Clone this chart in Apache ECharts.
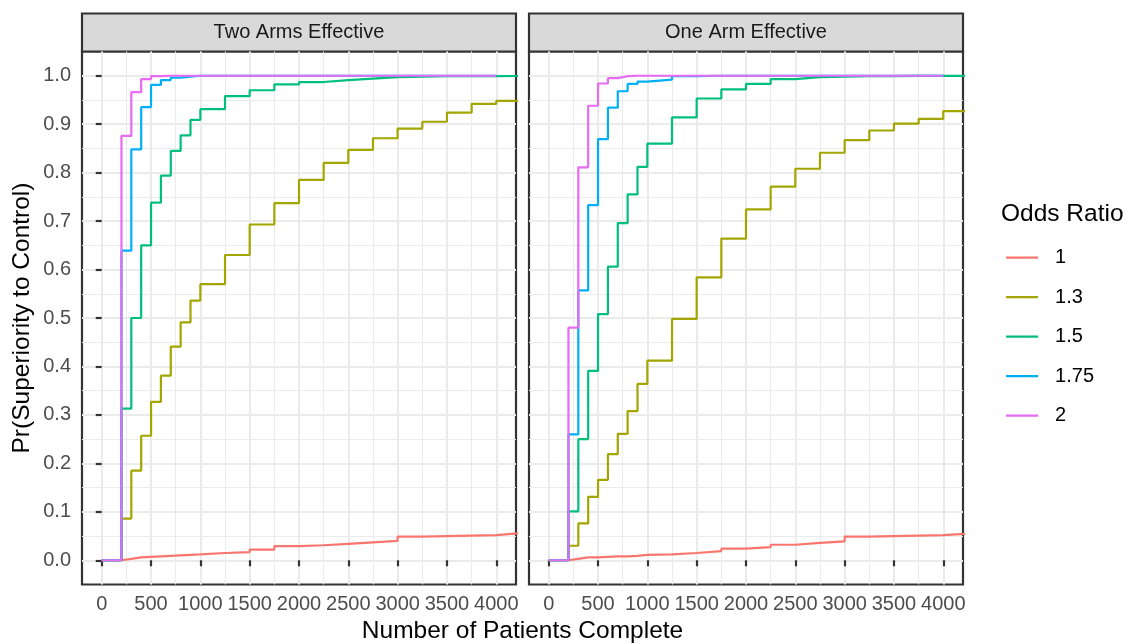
<!DOCTYPE html>
<html><head><meta charset="utf-8">
<script src="https://cdn.jsdelivr.net/npm/echarts@6/dist/echarts.min.js"></script>
<style>html,body{margin:0;padding:0;background:#fff}#c{width:1129px;height:644px}</style>
</head><body><div id="c"></div>
<script>
// ---- data ----
const patients = [0,200,300,400,500,600,700,800,900,1000,1250,1500,1750,2000,2250,2500,2750,3000,3250,3500,3750,4000,4250];
const oddsRatios = ['1','1.3','1.5','1.75','2'];
const panels = ['Two Arms Effective','One Arm Effective'];
const xMajorTicks = [0,500,1000,1500,2000,2500,3000,3500,4000];
const xMinorTicks = [250,750,1250,1750,2250,2750,3250,3750];
const yMajorTicks = [0,0.1,0.2,0.3,0.4,0.5,0.6,0.7,0.8,0.9,1.0];
const yMinorTicks = [0.05,0.15,0.25,0.35,0.45,0.55,0.65,0.75,0.85,0.95];

const twoArms1   = [0,0.003,0.006,0.007,0.008,0.009,0.010,0.011,0.012,0.015,0.017,0.022,0.029,0.031,0.034,0.037,0.040,0.049,0.050,0.051,0.052,0.056,0.056];
const twoArms13  = [0,0.086,0.185,0.257,0.327,0.381,0.441,0.491,0.536,0.570,0.630,0.693,0.737,0.785,0.820,0.847,0.871,0.891,0.905,0.924,0.942,0.948,0.948];
const twoArms15  = [0,0.313,0.500,0.650,0.738,0.794,0.845,0.877,0.909,0.931,0.958,0.970,0.982,0.987,0.991,0.994,0.997,0.998,0.999,0.999,0.999,0.9995,0.9995];
const twoArms175 = [0,0.639,0.848,0.935,0.981,0.991,0.996,0.998,1,1,1,1,1,1,1,1,1,1,1,1,1,1];
const twoArms2   = [0,0.876,0.966,0.993,0.999,1,1,1,1,1,1,1,1,1,1,1,1,1,1,1,1,1];

const oneArm1    = [0,0.003,0.006,0.006,0.007,0.008,0.008,0.009,0.011,0.012,0.015,0.019,0.024,0.027,0.032,0.036,0.039,0.049,0.050,0.051,0.052,0.055,0.055];
const oneArm13   = [0,0.030,0.076,0.131,0.166,0.219,0.261,0.308,0.364,0.412,0.498,0.584,0.664,0.724,0.771,0.808,0.841,0.867,0.887,0.901,0.911,0.927,0.927];
const oneArm15   = [0,0.101,0.250,0.391,0.508,0.606,0.696,0.755,0.812,0.860,0.914,0.953,0.972,0.983,0.993,0.997,0.998,0.999,0.999,0.9995,0.9995,0.9995,0.9995];
const oneArm175  = [0,0.260,0.557,0.733,0.869,0.934,0.968,0.983,0.988,0.992,0.999,1,1,1,1,1,1,1,1,1,1,1];
const oneArm2    = [0,0.480,0.811,0.938,0.984,0.995,0.999,1,1,1,1,1,1,1,1,1,1,1,1,1,1,1];

const panelSeries = [
  [twoArms1, twoArms13, twoArms15, twoArms175, twoArms2],
  [oneArm1, oneArm13, oneArm15, oneArm175, oneArm2]
];
const colors = ['#F8766D','#A3A500','#00BF7D','#00B0F6','#E76BF3'];

// ---- layout / style ----
const FONT = "'Liberation Sans', Arial, Helvetica, sans-serif";
const gridLefts = [82, 529];
const gridTop = 51.5, gridW = 434, gridH = 533;

const grids = gridLefts.map(l => ({
  left: l, top: gridTop, width: gridW, height: gridH,
  show: true, backgroundColor: '#ffffff', borderColor: '#333333', borderWidth: 2.2
}));

const xAxes = [], yAxes = [];
[0,1].forEach(g => {
  xAxes.push({
    type: 'value', gridIndex: g, min: -200, max: 4200, position: 'bottom',
    axisLine: {show: false},
    axisTick: {show: true, customValues: xMajorTicks, length: 6, lineStyle: {color: '#333333', width: 2.2}},
    axisLabel: {show: true, customValues: xMajorTicks, margin: 10, color: '#4D4D4D', fontSize: 20, fontFamily: FONT,
                formatter: v => String(v)},
    splitLine: {show: true, lineStyle: {color: '#EBEBEB', width: 2}}
  });
  xAxes.push({
    type: 'value', gridIndex: g, min: -200, max: 4200, position: 'bottom',
    axisLine: {show: false},
    axisTick: {show: false, customValues: xMinorTicks},
    axisLabel: {show: false, customValues: xMinorTicks},
    splitLine: {show: true, lineStyle: {color: '#EBEBEB', width: 1.1}}
  });
  yAxes.push({
    type: 'value', gridIndex: g, min: -0.05, max: 1.05, position: 'left',
    axisLine: {show: false},
    axisTick: {show: g === 0, customValues: yMajorTicks, length: 6, lineStyle: {color: '#333333', width: 2.2}},
    axisLabel: {show: g === 0, customValues: yMajorTicks, margin: 11, color: '#4D4D4D', fontSize: 20, fontFamily: FONT,
                formatter: v => Number(v).toFixed(1)},
    splitLine: {show: true, lineStyle: {color: '#EBEBEB', width: 2}}
  });
  yAxes.push({
    type: 'value', gridIndex: g, min: -0.05, max: 1.05, position: 'left',
    axisLine: {show: false},
    axisTick: {show: false, customValues: yMinorTicks},
    axisLabel: {show: false, customValues: yMinorTicks},
    splitLine: {show: true, lineStyle: {color: '#EBEBEB', width: 1.1}}
  });
});

const series = [];
panelSeries.forEach((list, p) => {
  list.forEach((vals, i) => {
    series.push({
      type: 'line', name: oddsRatios[i], xAxisIndex: p * 2, yAxisIndex: p * 2,
      step: 'end', symbol: 'none', showSymbol: false, clip: true,
      data: vals.map((v, k) => [patients[k], v]),
      lineStyle: {color: colors[i], width: 2.2},
      itemStyle: {color: colors[i]},
      emphasis: {disabled: true}, silent: true, animation: false
    });
  });
});

const graphics = [];
panels.forEach((name, p) => {
  graphics.push({type: 'rect', shape: {x: gridLefts[p], y: 13.5, width: gridW, height: 38},
    style: {fill: '#D9D9D9', stroke: '#333333', lineWidth: 2.2}, silent: true});
  graphics.push({type: 'text', x: gridLefts[p] + gridW / 2, y: 32.5,
    style: {text: name, font: '20px ' + FONT, fill: '#1A1A1A', align: 'center', verticalAlign: 'middle'}, silent: true});
});
graphics.push({type: 'text', x: 522.5, y: 631.5,
  style: {text: 'Number of Patients Complete', font: '24.5px ' + FONT, fill: '#000000', align: 'center', verticalAlign: 'middle'}, silent: true});
graphics.push({type: 'text', x: 22, y: 318, rotation: Math.PI / 2,
  style: {text: 'Pr(Superiority to Control)', font: '24.5px ' + FONT, fill: '#000000', align: 'center', verticalAlign: 'middle'}, silent: true});
graphics.push({type: 'text', x: 1001, y: 214,
  style: {text: 'Odds Ratio', font: '24.5px ' + FONT, fill: '#000000', align: 'left', verticalAlign: 'middle'}, silent: true});

const chart = echarts.init(document.getElementById('c'), null, {renderer: 'canvas'});
chart.setOption({
  animation: false,
  backgroundColor: '#ffffff',
  grid: grids,
  xAxis: xAxes,
  yAxis: yAxes,
  legend: {
    data: oddsRatios, orient: 'vertical', left: 1005, top: 247.7, padding: 0,
    itemWidth: 32, itemHeight: 20, itemGap: 19.5, selectedMode: false,
    itemStyle: {opacity: 0, borderWidth: 0},
    lineStyle: {width: 2.2},
    textStyle: {fontSize: 20, color: '#000000', fontFamily: FONT, lineHeight: 20, padding: [0, 0, 0, 12]}
  },
  series: series,
  graphic: graphics
});
</script></body></html>
